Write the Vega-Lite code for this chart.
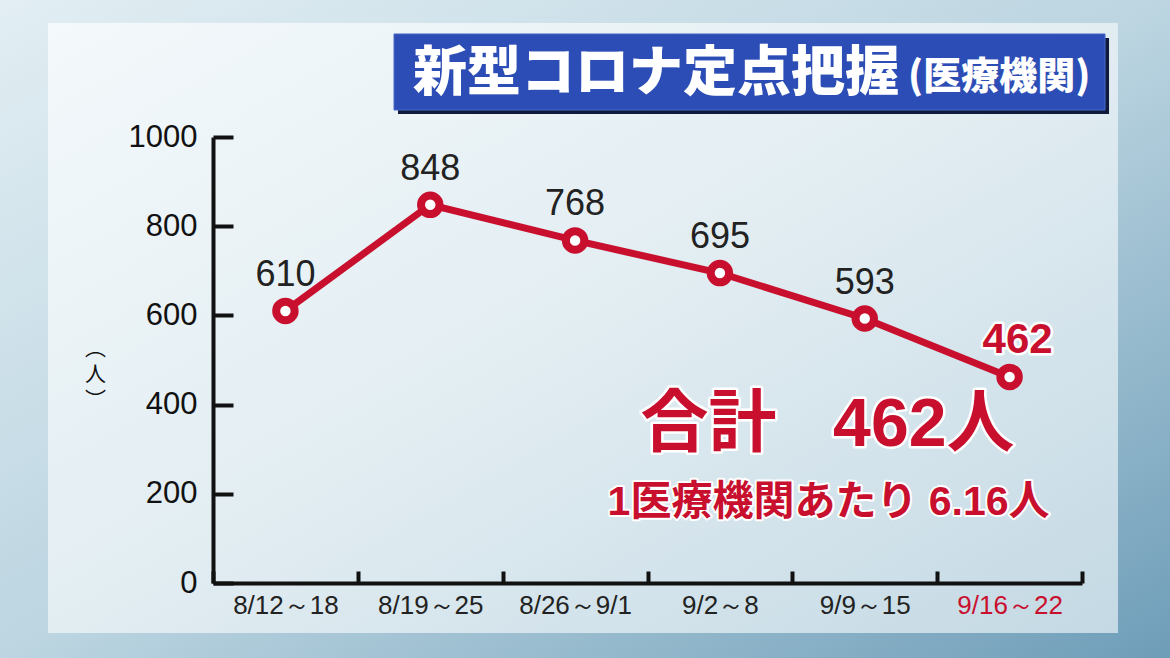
{
  "$schema": "https://vega.github.io/schema/vega-lite/v6.json",
  "width": 869,
  "height": 446,
  "autosize": {"type": "none"},
  "padding": {"left": 213, "top": 137, "right": 88, "bottom": 75},
  "background": "#b9d3e0",
  "config": {"view": {"stroke": null}, "font": "Liberation Sans"},
  "data": {
    "values": [
      {"week": "8/12～18", "value": 610},
      {"week": "8/19～25", "value": 848},
      {"week": "8/26～9/1", "value": 768},
      {"week": "9/2～8", "value": 695},
      {"week": "9/9～15", "value": 593},
      {"week": "9/16～22", "value": 462}
    ]
  },
  "layer": [
    {
      "data": {"values": [{}]},
      "mark": {"type": "rect", "fill": {"gradient": "linear", "x1": 0, "y1": 0, "x2": 1, "y2": 1, "stops": [{"offset": 0, "color": "#e2eef3"}, {"offset": 0.5, "color": "#bcd5e1"}, {"offset": 1, "color": "#6e9db8"}]}},
      "encoding": {
        "x": {"datum": -0.2451, "type": "quantitative", "scale": {"domain": [0, 1], "nice": false, "zero": false}, "axis": null},
        "x2": {"datum": 1.1013},
        "y": {"datum": 1308, "type": "quantitative", "scale": {"domain": [0, 1000], "nice": false}},
        "y2": {"datum": -170}
      }
    },
    {
      "data": {"values": [{}]},
      "mark": {"type": "rect", "fill": {"gradient": "linear", "x1": 0, "y1": 0, "x2": 1, "y2": 1, "stops": [{"offset": 0, "color": "#f4f9fb"}, {"offset": 0.5, "color": "#e2edf2"}, {"offset": 1, "color": "#c4d9e4"}]}},
      "encoding": {
        "x": {"datum": -0.1899, "type": "quantitative", "scale": {"domain": [0, 1], "nice": false, "zero": false}, "axis": null},
        "x2": {"datum": 1.0414},
        "y": {"datum": 1255.6, "type": "quantitative", "scale": {"domain": [0, 1000], "nice": false}},
        "y2": {"datum": -112.1}
      }
    },
    {
      "data": {"values": [{}]},
      "mark": {"type": "rect", "fill": "#0f1a3d"},
      "encoding": {
        "x": {"datum": 0.2129, "type": "quantitative", "scale": {"domain": [0, 1], "nice": false, "zero": false}, "axis": null},
        "x2": {"datum": 1.0311},
        "y": {"datum": 1222, "type": "quantitative", "scale": {"domain": [0, 1000], "nice": false}},
        "y2": {"datum": 1051.6}
      }
    },
    {
      "data": {"values": [{}]},
      "mark": {"type": "rect", "fill": "#2c4db5", "stroke": "#4a68c8", "strokeWidth": 1},
      "encoding": {
        "x": {"datum": 0.2083, "type": "quantitative", "scale": {"domain": [0, 1], "nice": false, "zero": false}, "axis": null},
        "x2": {"datum": 1.0265},
        "y": {"datum": 1231, "type": "quantitative", "scale": {"domain": [0, 1000], "nice": false}},
        "y2": {"datum": 1060.5}
      }
    },
    {
      "data": {"values": [{}]},
      "mark": {"type": "text", "text": "新型コロナ定点把握", "font": "Noto Sans CJK JP", "fontSize": 54, "fontWeight": 900, "color": "#ffffff", "align": "left", "baseline": "middle"},
      "encoding": {
        "x": {"datum": 0.2301, "type": "quantitative", "scale": {"domain": [0, 1], "nice": false, "zero": false}, "axis": null},
        "y": {"datum": 1139, "type": "quantitative", "scale": {"domain": [0, 1000], "nice": false}}
      }
    },
    {
      "data": {"values": [{}]},
      "mark": {"type": "text", "text": "(医療機関)", "font": "Noto Sans CJK JP", "fontSize": 38, "fontWeight": 900, "color": "#ffffff", "align": "left", "baseline": "middle"},
      "encoding": {
        "x": {"datum": 0.7998, "type": "quantitative", "scale": {"domain": [0, 1], "nice": false, "zero": false}, "axis": null},
        "y": {"datum": 1132, "type": "quantitative", "scale": {"domain": [0, 1000], "nice": false}}
      }
    },
    {
      "mark": {"type": "line", "color": "#c8102e", "strokeWidth": 7},
      "encoding": {
        "x": {
          "field": "week", "type": "nominal", "sort": null,
          "scale": {"type": "band", "domain": ["8/12～18", "8/19～25", "8/26～9/1", "9/2～8", "9/9～15", "9/16～22"], "paddingInner": 0, "paddingOuter": 0},
          "axis": {
            "zindex": 1,
            "title": null, "labelAngle": 0, "tickBand": "extent", "tickSize": -12, "tickWidth": 4,
            "tickColor": "#111111", "domainColor": "#111111", "domainWidth": 4,
            "labelFontSize": 26, "labelPadding": 21, "labelFont": "Liberation Sans",
            "labelColor": {"condition": {"test": "datum.value === '9/16～22'", "value": "#c8102e"}, "value": "#222222"}
          }
        },
        "y": {
          "field": "value", "type": "quantitative",
          "scale": {"domain": [0, 1000], "nice": false},
          "axis": {
            "zindex": 1, "format": "d",
            "values": [0, 200, 400, 600, 800, 1000], "grid": false,
            "tickSize": -20, "tickWidth": 4, "tickColor": "#111111",
            "domainColor": "#111111", "domainWidth": 4,
            "labelFontSize": 31, "labelPadding": 36, "labelColor": "#111111", "labelFlush": false, "labelOverlap": false,
            "title": ["︵", "人", "︶"], "titleAngle": 0, "titleFont": "Noto Sans CJK JP", "titleFontSize": 21,
            "titleFontWeight": "normal", "titleColor": "#111111", "titleLineHeight": 26,
            "titleX": -118, "titleY": 211, "titleAlign": "center", "titleBaseline": "middle"
          }
        }
      }
    },
    {
      "mark": {"type": "point", "shape": "circle", "filled": true, "fill": "#ffffff", "stroke": "#c8102e", "strokeWidth": 8, "size": 340, "opacity": 1},
      "encoding": {
        "x": {"field": "week", "type": "nominal", "sort": null, "scale": {"type": "band", "domain": ["8/12～18", "8/19～25", "8/26～9/1", "9/2～8", "9/9～15", "9/16～22"], "paddingInner": 0, "paddingOuter": 0}, "axis": null},
        "y": {"field": "value", "type": "quantitative"}
      }
    },
    {
      "transform": [{"filter": "datum.week !== '9/16～22'"}],
      "mark": {"type": "text", "fontSize": 36, "color": "#222222", "baseline": "alphabetic", "dy": -25},
      "encoding": {
        "x": {"field": "week", "type": "nominal", "sort": null, "scale": {"type": "band", "domain": ["8/12～18", "8/19～25", "8/26～9/1", "9/2～8", "9/9～15", "9/16～22"], "paddingInner": 0, "paddingOuter": 0}, "axis": null},
        "y": {"field": "value", "type": "quantitative"},
        "text": {"field": "value", "type": "quantitative"}
      }
    },
    {
      "transform": [{"filter": "datum.week === '9/16～22'"}],
      "mark": {"type": "text", "fontSize": 42, "fontWeight": "bold", "color": "#ffffff", "stroke": "#ffffff", "strokeWidth": 5, "strokeJoin": "round", "baseline": "alphabetic", "dx": 8, "dy": -24},
      "encoding": {
        "x": {"field": "week", "type": "nominal", "sort": null, "scale": {"type": "band", "domain": ["8/12～18", "8/19～25", "8/26～9/1", "9/2～8", "9/9～15", "9/16～22"], "paddingInner": 0, "paddingOuter": 0}, "axis": null},
        "y": {"field": "value", "type": "quantitative"},
        "text": {"field": "value", "type": "quantitative"}
      }
    },
    {
      "transform": [{"filter": "datum.week === '9/16～22'"}],
      "mark": {"type": "text", "fontSize": 42, "fontWeight": "bold", "color": "#c8102e", "baseline": "alphabetic", "dx": 8, "dy": -24},
      "encoding": {
        "x": {"field": "week", "type": "nominal", "sort": null, "scale": {"type": "band", "domain": ["8/12～18", "8/19～25", "8/26～9/1", "9/2～8", "9/9～15", "9/16～22"], "paddingInner": 0, "paddingOuter": 0}, "axis": null},
        "y": {"field": "value", "type": "quantitative"},
        "text": {"field": "value", "type": "quantitative"}
      }
    },
    {
      "data": {"values": [{}]},
      "mark": {"type": "text", "text": "合計\u2002\u2004462人", "font": "Liberation Sans, Noto Sans CJK JP", "fontSize": 68, "fontWeight": "bold", "color": "#ffffff", "stroke": "#ffffff", "strokeWidth": 5, "strokeJoin": "round", "align": "right", "baseline": "middle", "dx": 5},
      "encoding": {
        "x": {"datum": "9/16～22", "type": "nominal", "scale": {"type": "band", "domain": ["8/12～18", "8/19～25", "8/26～9/1", "9/2～8", "9/9～15", "9/16～22"], "paddingInner": 0, "paddingOuter": 0}, "axis": null},
        "y": {"datum": 352, "type": "quantitative"}
      }
    },
    {
      "data": {"values": [{}]},
      "mark": {"type": "text", "text": "合計\u2002\u2004462人", "font": "Liberation Sans, Noto Sans CJK JP", "fontSize": 68, "fontWeight": "bold", "color": "#c8102e", "align": "right", "baseline": "middle", "dx": 5},
      "encoding": {
        "x": {"datum": "9/16～22", "type": "nominal", "scale": {"type": "band", "domain": ["8/12～18", "8/19～25", "8/26～9/1", "9/2～8", "9/9～15", "9/16～22"], "paddingInner": 0, "paddingOuter": 0}, "axis": null},
        "y": {"datum": 352, "type": "quantitative"}
      }
    },
    {
      "data": {"values": [{}]},
      "mark": {"type": "text", "text": "1医療機関あたり 6.16人", "font": "Liberation Sans, Noto Sans CJK JP", "fontSize": 41, "fontWeight": "bold", "color": "#ffffff", "stroke": "#ffffff", "strokeWidth": 4, "strokeJoin": "round", "align": "right", "baseline": "middle", "dx": 40},
      "encoding": {
        "x": {"datum": "9/16～22", "type": "nominal", "scale": {"type": "band", "domain": ["8/12～18", "8/19～25", "8/26～9/1", "9/2～8", "9/9～15", "9/16～22"], "paddingInner": 0, "paddingOuter": 0}, "axis": null},
        "y": {"datum": 180, "type": "quantitative"}
      }
    },
    {
      "data": {"values": [{}]},
      "mark": {"type": "text", "text": "1医療機関あたり 6.16人", "font": "Liberation Sans, Noto Sans CJK JP", "fontSize": 41, "fontWeight": "bold", "color": "#c8102e", "align": "right", "baseline": "middle", "dx": 40},
      "encoding": {
        "x": {"datum": "9/16～22", "type": "nominal", "scale": {"type": "band", "domain": ["8/12～18", "8/19～25", "8/26～9/1", "9/2～8", "9/9～15", "9/16～22"], "paddingInner": 0, "paddingOuter": 0}, "axis": null},
        "y": {"datum": 180, "type": "quantitative"}
      }
    }
  ],
  "resolve": {"scale": {"x": "independent"}}
}
